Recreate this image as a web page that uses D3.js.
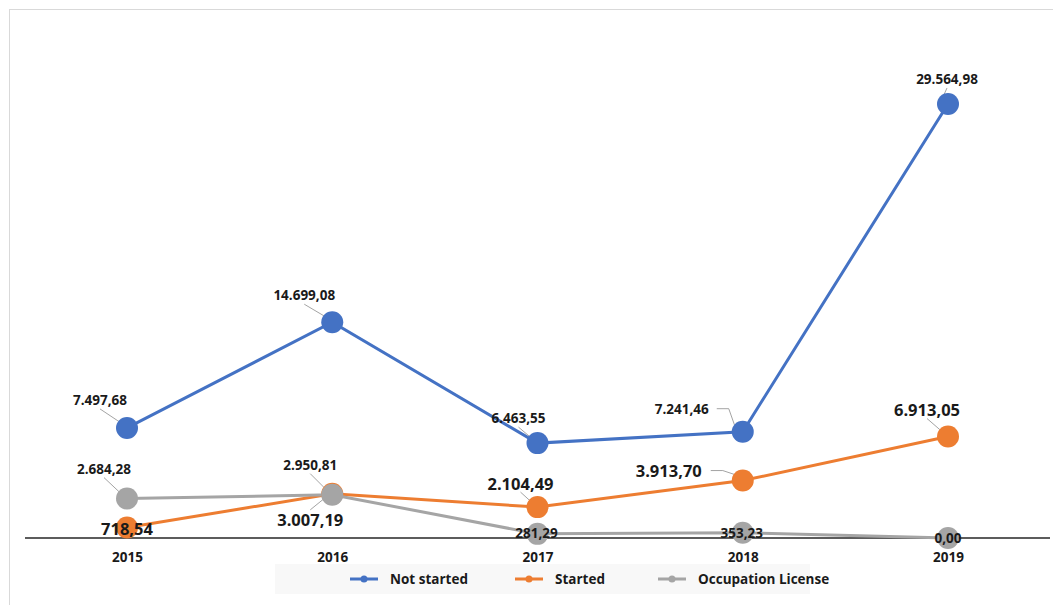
<!DOCTYPE html>
<html>
<head>
<meta charset="utf-8">
<script src="https://cdn.jsdelivr.net/npm/d3@7"></script>
<style>
  body { margin: 0; background: #fff; }
  svg text { font-family: "Open Sans", sans-serif; font-weight: 700; fill: #1a1a1a; }
</style>
</head>
<body>
<div id="chart"></div>
<script>
// data
var years = ["2015", "2016", "2017", "2018", "2019"];
var notStarted = [7497.68, 14699.08, 6463.55, 7241.46, 29564.98];
var started = [718.54, 3007.19, 2104.49, 3913.70, 6913.05];
var occupation = [2684.28, 2950.81, 281.29, 353.23, 0.00];
var seriesNames = ["Not started", "Started", "Occupation License"];

// layout of the value labels, px from the marker centre
var labelShift = {
  "Not started": [[-27, -28], [-28, -27], [-19, -25], [-61, -23], [-1, -25]],
  "Started": [[0, 1], [-22, 26], [-17, -24], [-74, -10], [-21, -27]],
  "Occupation License": [[-23, -30], [-22, -30], [-1, -1], [-1, 0], [0, 0]]
};

var width = 1053, height = 605;
var colours = { "Not started": "#4472c4", "Started": "#ed7d31", "Occupation License": "#a5a5a5" };
var labelSize = { "Not started": 13.5, "Started": 16.5, "Occupation License": 13.5 };

var series = [
  { name: "Not started", values: notStarted },
  { name: "Started", values: started },
  { name: "Occupation License", values: occupation }
];

var fmt = function(v) {
  return d3.format(",.2f")(v).replace(/,/g, "#").replace(".", ",").replace(/#/g, ".");
};

var svg = d3.select("#chart").append("svg")
  .attr("width", width)
  .attr("height", height);

// chart frame
svg.append("rect")
  .attr("x", 9.5).attr("y", 9.5)
  .attr("width", width + 10).attr("height", height + 10)
  .attr("fill", "none")
  .attr("stroke", "#d9d9d9");

// legend box goes under everything else
var legend = svg.append("g").attr("transform", "translate(0,579)");
legend.append("rect")
  .attr("x", 275).attr("y", -15)
  .attr("width", 535).attr("height", 30)
  .attr("fill", "#f8f8f8");

var x = d3.scalePoint().domain(years).range([127, 948]);
var y = d3.scaleLinear().domain([0, 30000]).range([538, 97.6]);

// base line
svg.append("line")
  .attr("x1", 25).attr("x2", 1050)
  .attr("y1", y(0)).attr("y2", y(0))
  .attr("stroke", "#262626")
  .attr("stroke-width", 1.5);

var xAxis = svg.append("g")
  .attr("transform", "translate(0," + y(0) + ")")
  .call(d3.axisBottom(x).tickSize(0).tickPadding(14));
xAxis.select(".domain").remove();
xAxis.selectAll("text")
  .style("font-family", "\"Open Sans\", sans-serif")
  .style("font-weight", 700)
  .style("font-size", "13.5px")
  .attr("fill", "#1a1a1a");

var line = d3.line()
  .x(function(d, i) { return x(years[i]); })
  .y(function(d) { return y(d); });

series.forEach(function(s) {
  svg.append("path")
    .datum(s.values)
    .attr("d", line)
    .attr("fill", "none")
    .attr("stroke", colours[s.name])
    .attr("stroke-width", 3);
});

// leader lines for labels that sit away from the marker
series.forEach(function(s) {
  s.values.forEach(function(v, i) {
    var sh = labelShift[s.name][i];
    if (Math.abs(sh[0]) < 5 && Math.abs(sh[1]) < 5) return;
    if (s.name == "Started" && i == 0) return;
    var mx = x(years[i]), my = y(v);
    var lx = mx + sh[0], ly = my + sh[1];
    var pts;
    if (Math.abs(sh[0]) > 40) {
      var tw = s.name == "Started" ? 38 : 31;
      pts = [[lx + tw + 4, ly], [lx + tw + 16, ly], [mx - 8, my - 6]];
    } else {
      var sy = sh[1] < 0 ? ly + 9 : ly - 10;
      pts = [[lx, sy], [mx - 6, my + (sh[1] < 0 ? -5 : 3)]];
    }
    svg.append("path")
      .attr("d", d3.line()(pts))
      .attr("fill", "none")
      .attr("stroke", "#8c8c8c")
      .attr("stroke-width", 0.8);
  });
});

series.forEach(function(s) {
  svg.selectAll(null)
    .data(s.values)
    .enter().append("circle")
    .attr("cx", function(d, i) { return x(years[i]); })
    .attr("cy", function(d) { return y(d); })
    .attr("r", 11)
    .attr("fill", colours[s.name]);
});

series.forEach(function(s) {
  svg.selectAll(null)
    .data(s.values)
    .enter().append("text")
    .attr("x", function(d, i) { return x(years[i]) + labelShift[s.name][i][0]; })
    .attr("y", function(d, i) { return y(d) + labelShift[s.name][i][1]; })
    .attr("text-anchor", "middle")
    .attr("dominant-baseline", "central")
    .style("font-size", labelSize[s.name] + "px")
    .text(function(d) { return fmt(d); });
});

// legend entries
var legendX = d3.scaleOrdinal().domain(seriesNames).range([350, 515, 658]);
var items = legend.selectAll("g.item")
  .data(seriesNames)
  .enter().append("g")
  .attr("class", "item")
  .attr("transform", function(d) { return "translate(" + legendX(d) + ",0)"; });
items.append("line")
  .attr("x1", 0).attr("x2", 28)
  .attr("stroke", function(d) { return colours[d]; })
  .attr("stroke-width", 3);
items.append("circle")
  .attr("cx", 14).attr("r", 3.5)
  .attr("fill", function(d) { return colours[d]; });
items.append("text")
  .attr("x", 40)
  .attr("dominant-baseline", "central")
  .style("font-size", "13.5px")
  .text(function(d) { return d; });
</script>
</body>
</html>
